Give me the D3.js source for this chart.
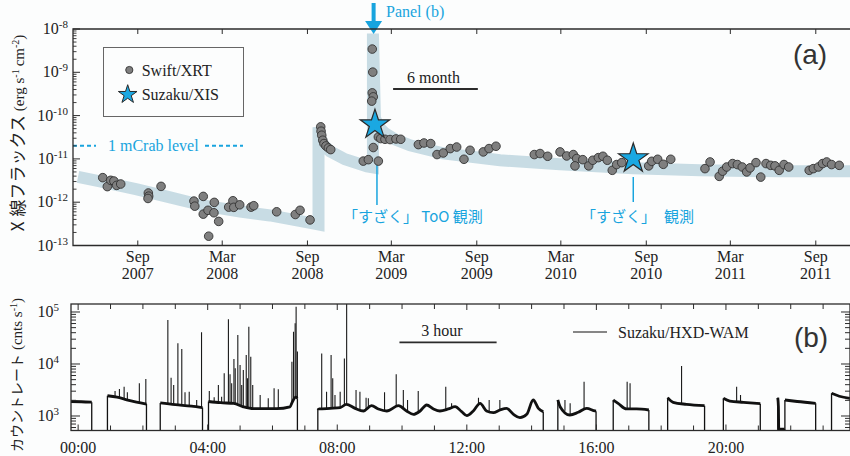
<!DOCTYPE html>
<html><head><meta charset="utf-8">
<script src="https://cdn.jsdelivr.net/npm/d3@7"></script>
<style>
body{margin:0;background:#fcfdfd;}
svg{display:block;}
</style></head><body>
<svg id="c" width="850" height="456"></svg>
<script>
// ---------------- Panel (a) data ----------------
const xrtYear = [
 2007.459,2007.486,2007.506,2007.525,2007.541,2007.565,2007.728,2007.730,2007.726,2007.803,
 2007.997,2008.002,2008.052,2008.052,2008.080,2008.117,2008.115,2008.143,2008.084,2008.202,
 2008.227,2008.232,2008.267,2008.334,2008.350,2008.485,2008.595,2008.623,2008.682,
 2008.745,2008.747,2008.751,2008.757,2008.764,2008.776,2008.790,2008.804,
 2009.049,2009.052,2009.049,2009.055,2009.046,2009.085,2009.099,2009.055,2008.996,2009.026,2009.085,
 2009.124,2009.154,2009.189,2009.217,2009.321,2009.354,2009.394,2009.431,2009.468,2009.509,
 2009.547,2009.590,2009.626,2009.704,2009.738,2009.779,
 2010.005,2010.039,2010.084,2010.157,2010.196,2010.235,2010.255,2010.291,2010.245,2010.326,
 2010.350,2010.383,2010.410,2010.436,2010.465,2010.491,2010.521,
 2010.680,2010.698,2010.733,2010.766,2010.810,
 2011.012,2011.042,2011.096,2011.116,2011.140,2011.175,2011.203,2011.232,2011.258,2011.278,
 2011.313,2011.341,2011.372,2011.400,2011.425,2011.450,2011.478,2011.506,
 2011.627,2011.651,2011.681,2011.706,2011.730,2011.759,2011.804
];
const xrtFlux = [
 3.69e-12,2.29e-12,3.2e-12,3.08e-12,2.45e-12,2.63e-12,1.63e-12,1.38e-12,1.22e-12,2.32e-12,
 1.06e-12,8.1e-13,1.36e-12,5.3e-13,6.5e-13,9.9e-13,5.7e-13,3.6e-13,1.64e-13,7.7e-13,
 1.08e-12,7.6e-13,8.7e-13,7.7e-13,8.3e-13,6.0e-13,5.2e-13,6.5e-13,3.9e-13,
 5.5e-11,4.36e-11,3.52e-11,2.7e-11,2.26e-11,1.99e-11,1.79e-11,1.64e-11,
 3.44e-9,1.01e-9,3.35e-10,2.71e-10,2.16e-10,3.21e-11,2.95e-11,1.83e-11,8.9e-12,9.6e-12,8.9e-12,
 2.84e-11,2.8e-11,2.89e-11,2.84e-11,2.14e-11,2.33e-11,2.26e-11,1.26e-11,1.37e-11,1.73e-11,
 1.88e-11,9.8e-12,1.58e-11,1.45e-11,1.73e-11,1.96e-11,
 1.26e-11,1.33e-11,1.15e-11,1.45e-11,1.17e-11,1.26e-11,1.02e-11,9.6e-12,6.9e-12,6.9e-12,
 9.3e-12,1.07e-11,1.15e-11,9.3e-12,5.45e-12,7.4e-12,8.2e-12,
 6.9e-12,8.8e-12,9.8e-12,7.5e-12,9.8e-12,
 5.96e-12,8.5e-12,3.95e-12,5.2e-12,6.5e-12,7.8e-12,7.4e-12,6.5e-12,5.0e-12,6.2e-12,
 8.2e-12,3.8e-12,7.8e-12,7.1e-12,6.9e-12,5.45e-12,7.4e-12,6.5e-12,
 5.45e-12,5.96e-12,6.5e-12,7.8e-12,8.5e-12,7.4e-12,7.1e-12
];
const xisYear = [2009.065, 2010.589];
const xisFlux = [6.2e-11, 1.02e-11];
const modelYear = [2007.313,2007.443,2007.661,2007.856,2008.050,2008.269,2008.446,2008.699,
 2008.732,2008.732,2008.741,2008.758,2008.800,2008.888,2009.018,2009.053,
 2009.053,2009.065,2009.089,2009.124,2009.183,2009.272,2009.466,2009.803,2010.157,2010.587,
 2010.983,2011.455,2011.926];
const modelFlux = [3.85e-12,3.03e-12,1.98e-12,1.29e-12,8.4e-13,6.1e-13,4.94e-13,3.23e-13,
 3.06e-13,5.38e-11,3.16e-11,2.18e-11,1.5e-11,9.8e-12,6.75e-12,6.4e-12,
 7.86e-9,8.7e-11,5.38e-11,3.92e-11,2.84e-11,2.07e-11,1.35e-11,9.3e-12,7.5e-12,6.05e-12,
 5.45e-12,5.16e-12,5.16e-12];
const mCrabFlux = 2e-11;
const panelBYear = 2009.057;
const aTickDates = ["2007-09-01","2008-03-01","2008-09-01","2009-03-01","2009-09-01","2010-03-01","2010-09-01","2011-03-01","2011-09-01"];
const aTickMonth = ["Sep","Mar","Sep","Mar","Sep","Mar","Sep","Mar","Sep"];
const aTickYear = ["2007","2008","2008","2009","2009","2010","2010","2011","2011"];
const aDecades = [-13,-12,-11,-10,-9,-8];

// ---------------- Panel (b) data ----------------
// null marks a data gap (no counts recorded)
const wamBase = [
 [-0.22,1900],[0.1,1880],[0.42,1840],null,
 [0.905,2450],[1.2,2300],[1.5,2050],[1.8,1850],[2.11,1700],null,
 [2.535,1780],[3.0,1650],[3.5,1550],[3.84,1450],null,
 [4.025,1900],[4.4,1800],[4.8,1750],[5.1,1500],[5.41,1380],[6.13,1380],[6.54,1500],[6.62,1900],[6.72,2300],[6.77,2200],null,
 [7.40,1400],[7.42,1365],[7.78,1403],[8.09,1445],[8.28,1675],[8.55,1403],[8.81,1248],[9.06,1580],[9.27,1365],
 [9.53,1248],[9.89,1580],[10.14,1248],[10.35,1077],[10.56,1248],[10.76,1628],[10.97,1365],[11.17,1248],[11.43,1365],
 [11.64,1510],[11.84,1211],[12.00,1014],[12.20,1248],[12.41,1753],[12.61,1248],[12.82,1159],[13.02,1304],[13.23,1403],
 [13.44,1077],[13.64,929],[13.85,1077],[14.05,2031],[14.21,1403],[14.36,1211],null,
 [14.81,2031],[14.88,1510],[15.18,1045],[15.44,1177],[15.70,1403],[15.96,1248],[15.99,1240],null,
 [16.52,2031],[16.67,1753],[16.93,1365],[17.24,1365],[17.62,1304],null,
 [18.20,2250],[18.37,1832],[18.78,1675],[19.34,1580],null,
 [19.92,2190],[20.12,1942],[20.54,1832],[21.06,1726],null,
 [21.60,2250],[21.62,1500],[21.63,560],[21.81,560],null,
 [21.82,2031],[22.2,1900],[22.77,1753],null,
 [23.26,2730],[23.5,2400],[23.83,2190]
];
const wamSpikes = [
 [1.14,3030],[1.275,3300],[1.42,3660],[1.52,2860],[1.89,4260],[2.09,5150],
 [2.77,70200],[2.87,5460],[2.95,3950],[3.08,25000],[3.20,19400],[3.30,2860],[3.43,2930],[3.66,2030],[3.81,40600],
 [4.05,3030],[4.20,2300],[4.33,3950],[4.43,2350],[4.51,6620],[4.64,72400],[4.69,6330],[4.74,4260],[4.81,12500],
 [4.85,8260],[4.93,36100],[5.00,9570],[5.05,3950],[5.10,7670],[5.19,14900],[5.23,5300],[5.27,52200],[5.33,13800],
 [5.39,3950],[5.62,2540],[5.87,2190],[6.05,3410],[6.18,3260],
 [6.60,11100],[6.65,41800],[6.70,60700],[6.73,126000],[6.77,17300],
 [7.52,16000],[7.67,2940],[7.81,14900],[7.86,5300],[7.93,2540],[8.09,2940],[8.22,12800],[8.29,150000],
 [8.58,3160],[8.70,2940],[8.89,2250],[8.96,2190],[9.46,2850],[9.82,6330],[10.04,3160],[10.17,2031],
 [10.50,3030],[11.35,3660],[11.53,1753],[12.36,2250],[12.69,2031],[13.02,2031],
 [15.03,2031],[15.19,1753],[15.62,4570],
 [16.95,4570],[17.04,4250],
 [18.63,9160],
 [20.33,3660],[20.45,2540]
];
const bTickHours = [0,4,8,12,16,20];
const bTickLabels = ["00:00","04:00","08:00","12:00","16:00","20:00"];
const bDecades = [3,4,5];

// ---------------- setup ----------------
const SERIF = "'Liberation Serif','Times New Roman',serif";
const SANS = "'Liberation Sans',Arial,sans-serif";
const CJK = "'Noto Sans CJK JP','Noto Sans CJK SC',sans-serif";
const CYAN = "#18a4de";
const INK = "#2b2b2b";

const svg = d3.select("#c");
svg.append("rect").attr("width",850).attr("height",456).attr("fill","#fcfdfd");

function decYear(s){
  const d = new Date(s+"T00:00:00Z"); const y = d.getUTCFullYear();
  const s0 = Date.UTC(y,0,1), s1 = Date.UTC(y+1,0,1);
  return y + (d - s0)/(s1 - s0);
}
function pow10(sel, base, exp, supSize){
  sel.append("tspan").text(base);
  sel.append("tspan").attr("dy",-6).attr("font-size",supSize).text(exp);
}

// ================= PANEL A =================
const A = {l:73, r:860, t:29, b:245.5};
const xA = d3.scaleLinear().domain([2007.2835, 2011.9266]).range([A.l, A.r]);
const yA = d3.scaleLog().domain([1e-13, 1e-8]).range([A.b, A.t]);

svg.append("clipPath").attr("id","clipA").append("rect")
  .attr("x",A.l).attr("y",A.t).attr("width",A.r-A.l).attr("height",A.b-A.t);

const gA = svg.append("g");
gA.append("path")
  .datum(modelYear.map((y,i)=>[y, modelFlux[i]]))
  .attr("clip-path","url(#clipA)")
  .attr("fill","none").attr("stroke","#c8dce4").attr("stroke-width",12)
  .attr("stroke-linejoin","miter")
  .attr("d", d3.line().x(d=>xA(d[0])).y(d=>yA(d[1])));

const yCrab = yA(mCrabFlux);
gA.append("line").attr("x1",A.l).attr("x2",96).attr("y1",yCrab).attr("y2",yCrab)
  .attr("stroke",CYAN).attr("stroke-width",2).attr("stroke-dasharray","4,3");
gA.append("line").attr("x1",205).attr("x2",243).attr("y1",yCrab).attr("y2",yCrab)
  .attr("stroke",CYAN).attr("stroke-width",2).attr("stroke-dasharray","4,3");
gA.append("text").attr("x",108).attr("y",yCrab+5.5).attr("font-family",SERIF)
  .attr("font-size",16).attr("fill",CYAN).text("1 mCrab level");

const sx1 = xA(xisYear[0]), sx2 = xA(xisYear[1]);
gA.append("line").attr("x1",sx1+2).attr("x2",sx1+2).attr("y1",163).attr("y2",205)
  .attr("stroke",CYAN).attr("stroke-width",1.5);
gA.append("line").attr("x1",sx2).attr("x2",sx2).attr("y1",177).attr("y2",202)
  .attr("stroke",CYAN).attr("stroke-width",1.5);

gA.selectAll("circle.xrt").data(xrtYear.map((y,i)=>[y,xrtFlux[i]])).join("circle")
  .attr("class","xrt").attr("cx",d=>xA(d[0])).attr("cy",d=>yA(d[1])).attr("r",4.3)
  .attr("fill","#7f7f7f").attr("stroke","#333").attr("stroke-width",0.9);

const starBig = d3.symbol().type(d3.symbolStar).size(15.5*15.5/0.8908);
gA.selectAll("path.xis").data(xisYear.map((y,i)=>[y,xisFlux[i]])).join("path")
  .attr("class","xis").attr("d",starBig())
  .attr("transform",d=>`translate(${xA(d[0])},${yA(d[1])})`)
  .attr("fill","#1aa8e2").attr("stroke","#2a2a2a").attr("stroke-width",1.2);

gA.append("text").attr("x",sx1-32).attr("y",222.4).attr("font-family",CJK)
  .attr("font-size",15).attr("fill",CYAN).text("「すざく」 ToO 観測");
const t2 = gA.append("text").attr("x",sx2-52.3).attr("y",222.4).attr("font-family",CJK)
  .attr("font-size",15).attr("fill",CYAN);
t2.append("tspan").text("「すざく」");
t2.append("tspan").attr("dx",8).text("観測");

const m0 = 2009.172;
gA.append("line").attr("x1",xA(m0)).attr("x2",xA(m0+0.5)).attr("y1",89).attr("y2",89)
  .attr("stroke",INK).attr("stroke-width",1.8);
gA.append("text").attr("x",(xA(m0)+xA(m0+0.5))/2-2).attr("y",83.3).attr("text-anchor","middle")
  .attr("font-family",SERIF).attr("font-size",16).attr("fill","#222").text("6 month");

gA.append("rect").attr("x",103.5).attr("y",47.5).attr("width",140).attr("height",69)
  .attr("fill","none").attr("stroke","#666").attr("stroke-width",1);
gA.append("circle").attr("cx",129.3).attr("cy",70).attr("r",3.6)
  .attr("fill","#7f7f7f").attr("stroke","#333").attr("stroke-width",0.9);
gA.append("path").attr("d",d3.symbol().type(d3.symbolStar).size(9.8*9.8/0.8908)())
  .attr("transform","translate(127.7,94.5)")
  .attr("fill","#1aa8e2").attr("stroke","#2a2a2a").attr("stroke-width",1);
gA.append("text").attr("x",141.7).attr("y",76).attr("font-family",SERIF).attr("font-size",16)
  .attr("fill","#222").text("Swift/XRT");
gA.append("text").attr("x",141.7).attr("y",100).attr("font-family",SERIF).attr("font-size",16)
  .attr("fill","#222").text("Suzaku/XIS");

gA.append("text").attr("x",810).attr("y",63.5).attr("text-anchor","middle")
  .attr("font-family",SANS).attr("font-size",28).attr("fill","#333").text("(a)");

const ax = xA(panelBYear);
svg.append("rect").attr("x",ax-2).attr("y",3).attr("width",4).attr("height",19).attr("fill",CYAN);
svg.append("path").attr("d",`M${ax-8.5},21 L${ax+8.5},21 L${ax},34 Z`).attr("fill",CYAN);
svg.append("text").attr("x",386).attr("y",16.5).attr("font-family",SERIF).attr("font-size",16)
  .attr("fill",CYAN).text("Panel (b)");

const fA = svg.append("g").attr("stroke",INK).attr("stroke-width",1.3).attr("fill","none");
fA.append("path").attr("d",`M${A.r},${A.t} H${A.l} V${A.b} H${A.r}`);
aTickDates.forEach((s,i)=>{
  const x = xA(decYear(s));
  fA.append("line").attr("x1",x).attr("x2",x).attr("y1",A.b).attr("y2",A.b-5).attr("stroke-width",1);
  fA.append("line").attr("x1",x).attr("x2",x).attr("y1",A.t).attr("y2",A.t+5).attr("stroke-width",1);
  svg.append("text").attr("x",x).attr("y",262).attr("text-anchor","middle").attr("font-family",SERIF)
    .attr("font-size",16).attr("fill","#222").text(aTickMonth[i]);
  svg.append("text").attr("x",x).attr("y",279).attr("text-anchor","middle").attr("font-family",SERIF)
    .attr("font-size",16).attr("fill","#222").text(aTickYear[i]);
});
aDecades.forEach(e=>{
  const y = yA(Math.pow(10,e));
  fA.append("line").attr("x1",A.l).attr("x2",A.l+7).attr("y1",y).attr("y2",y).attr("stroke-width",1);
  if (e < -8) for (let m=2;m<=9;m++){
    const ym = yA(m*Math.pow(10,e));
    fA.append("line").attr("x1",A.l).attr("x2",A.l+3.5).attr("y1",ym).attr("y2",ym).attr("stroke-width",0.9);
  }
  const t = svg.append("text").attr("x",68).attr("y",y+5).attr("text-anchor","end")
    .attr("font-family",SERIF).attr("font-size",16).attr("fill","#222");
  pow10(t,"10",String(e),11);
});

const la = svg.append("text").attr("transform","translate(23.5,133) rotate(-90)")
  .attr("text-anchor","middle").attr("fill","#222");
la.append("tspan").attr("font-family",CJK).attr("font-size",17).text("X");
la.append("tspan").attr("font-family",CJK).attr("font-size",17).attr("dx",5).text("線フラックス");
la.append("tspan").attr("font-family",SERIF).attr("font-size",15).attr("dx",4).text("(erg s");
la.append("tspan").attr("font-family",SERIF).attr("font-size",10).attr("dy",-5).text("-1");
la.append("tspan").attr("font-family",SERIF).attr("font-size",15).attr("dy",5).attr("dx",3).text("cm");
la.append("tspan").attr("font-family",SERIF).attr("font-size",10).attr("dy",-5).text("-2");
la.append("tspan").attr("font-family",SERIF).attr("font-size",15).attr("dy",5).text(")");

// ================= PANEL B =================
const B = {l:71, r:850, t:304, b:430.5};
const xB = d3.scaleLinear().domain([-0.22, 23.83]).range([B.l, B.r]);
const yB = d3.scaleLog().domain([526, 142500]).range([B.b, B.t]);

svg.append("clipPath").attr("id","clipB").append("rect")
  .attr("x",B.l).attr("y",B.t).attr("width",B.r-B.l).attr("height",B.b-B.t);
const gB = svg.append("g").attr("clip-path","url(#clipB)");

// split baseline into observation runs
const runs = [];
let cur = [];
wamBase.forEach(p=>{ if (p===null){ if (cur.length) runs.push(cur); cur=[]; } else cur.push(p); });
if (cur.length) runs.push(cur);

const baseAt = h => {
  const run = runs.find(r=>h>=r[0][0] && h<=r[r.length-1][0]) || runs[0];
  const i = Math.max(1, d3.bisector(d=>d[0]).right(run, h));
  const a = run[i-1], b = run[Math.min(run.length-1,i)];
  const t = b[0]===a[0] ? 0 : (h-a[0])/(b[0]-a[0]);
  return Math.exp(Math.log(a[1]) + t*(Math.log(b[1])-Math.log(a[1])));
};
gB.selectAll("line.sp").data(wamSpikes).join("line").attr("class","sp")
  .attr("x1",d=>xB(d[0])).attr("x2",d=>xB(d[0]))
  .attr("y1",d=>yB(baseAt(d[0]))).attr("y2",d=>yB(d[1]))
  .attr("stroke","#1a1a1a").attr("stroke-width",1.1);

const lineB = d3.line().x(d=>xB(d[0])).y(d=>yB(d[1])).curve(d3.curveMonotoneX);
runs.forEach((r,k)=>{
  gB.append("path").datum(r).attr("fill","none").attr("stroke","#111")
    .attr("stroke-width",2.8).attr("stroke-linejoin","round").attr("d",lineB);
  const first = r[0], last = r[r.length-1];
  if (k>0) gB.append("line").attr("x1",xB(first[0])).attr("x2",xB(first[0]))
    .attr("y1",B.b).attr("y2",yB(first[1])).attr("stroke","#111").attr("stroke-width",1.3);
  if (k<runs.length-1) gB.append("line").attr("x1",xB(last[0])).attr("x2",xB(last[0]))
    .attr("y1",yB(last[1])).attr("y2",B.b).attr("stroke","#111").attr("stroke-width",1.3);
});

const h0 = 9.92;
svg.append("line").attr("x1",xB(h0)).attr("x2",xB(h0+3)).attr("y1",342.3).attr("y2",342.3)
  .attr("stroke",INK).attr("stroke-width",1.8);
svg.append("text").attr("x",(xB(h0)+xB(h0+3))/2-6).attr("y",336).attr("text-anchor","middle")
  .attr("font-family",SERIF).attr("font-size",16).attr("fill","#222").text("3 hour");
svg.append("line").attr("x1",573).attr("x2",607).attr("y1",332).attr("y2",332)
  .attr("stroke","#111").attr("stroke-width",1.2);
svg.append("text").attr("x",618).attr("y",337.5).attr("font-family",SERIF).attr("font-size",16)
  .attr("fill","#222").text("Suzaku/HXD-WAM");
svg.append("text").attr("x",811).attr("y",347).attr("text-anchor","middle")
  .attr("font-family",SANS).attr("font-size",28).attr("fill","#333").text("(b)");

const fB = svg.append("g").attr("stroke",INK).attr("stroke-width",1.3).attr("fill","none");
fB.append("rect").attr("x",B.l).attr("y",B.t).attr("width",B.r-B.l).attr("height",B.b-B.t);
for (let h=0; h<=23; h++){
  const x = xB(h), L = (h%4===0)?6:5;
  fB.append("line").attr("x1",x).attr("x2",x).attr("y1",B.b).attr("y2",B.b-L).attr("stroke-width",1);
  fB.append("line").attr("x1",x).attr("x2",x).attr("y1",B.t).attr("y2",B.t+L).attr("stroke-width",1);
}
bTickHours.forEach((h,i)=>{
  svg.append("text").attr("x",xB(h)).attr("y",453).attr("text-anchor","middle")
    .attr("font-family",SERIF).attr("font-size",16).attr("fill","#222").text(bTickLabels[i]);
});
const yMinTick = d3.range(2,10).map(m=>m*100).concat(d3.range(1,10).map(m=>m*1000),
  d3.range(1,10).map(m=>m*10000), [100000]);
yMinTick.forEach(v=>{
  if (v < 526 || v > 142500) return;
  const y = yB(v); const major = [1000,10000,100000].includes(v);
  const L = major ? 9 : 5;
  fB.append("line").attr("x1",B.l).attr("x2",B.l+L).attr("y1",y).attr("y2",y).attr("stroke-width",1);
  fB.append("line").attr("x1",B.r).attr("x2",B.r-L).attr("y1",y).attr("y2",y).attr("stroke-width",1);
});
bDecades.forEach(e=>{
  const y = yB(Math.pow(10,e));
  const t = svg.append("text").attr("x",59).attr("y",y+5).attr("text-anchor","end")
    .attr("font-family",SERIF).attr("font-size",16).attr("fill","#222");
  pow10(t,"10",String(e),11);
});
const lb = svg.append("text").attr("transform","translate(21.5,375) rotate(-90)")
  .attr("text-anchor","middle").attr("fill","#222");
lb.append("tspan").attr("font-family",CJK).attr("font-size",14).text("カウントレート");
lb.append("tspan").attr("font-family",SERIF).attr("font-size",15).attr("dx",4).text("(cnts s");
lb.append("tspan").attr("font-family",SERIF).attr("font-size",10).attr("dy",-5).text("-1");
lb.append("tspan").attr("font-family",SERIF).attr("font-size",15).attr("dy",5).text(")");
</script>
</body></html>
